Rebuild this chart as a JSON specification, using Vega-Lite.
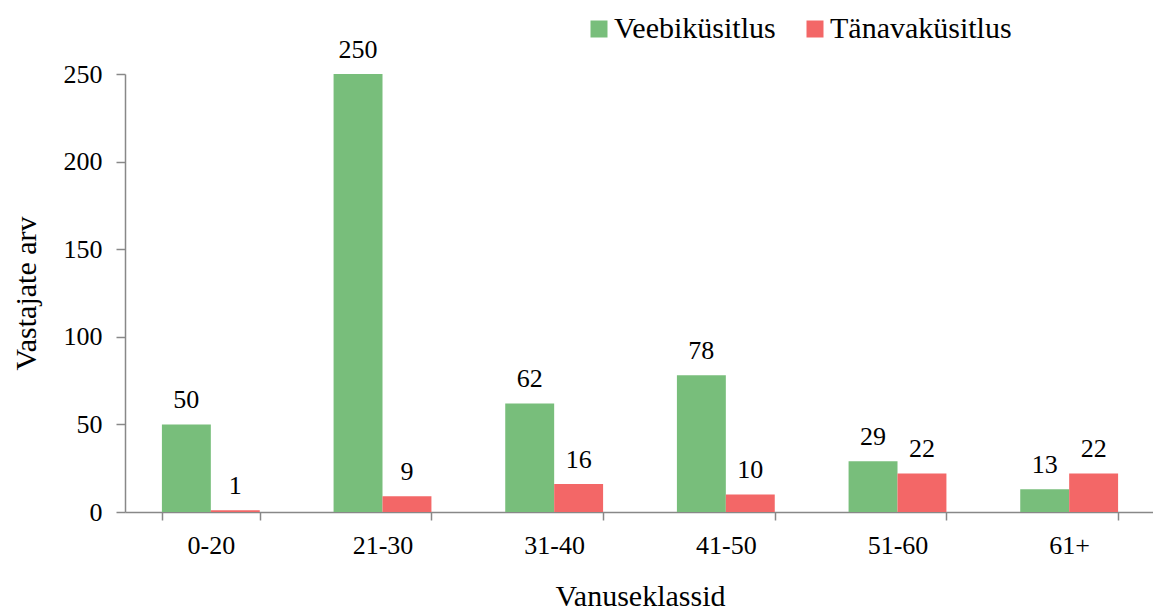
{
  "$schema": "https://vega.github.io/schema/vega-lite/v6.json",
  "width": 1030,
  "height": 438,
  "autosize": {"type": "none"},
  "padding": {"left": 125, "top": 74, "right": 0, "bottom": 99},
  "background": "white",
  "config": {
    "view": {"stroke": null},
    "font": "Liberation Serif, Times New Roman, serif",
    "axis": {"labelFont": "Liberation Serif, Times New Roman, serif", "titleFont": "Liberation Serif, Times New Roman, serif", "labelColor": "#000", "titleColor": "#000", "domainColor": "#888", "tickColor": "#888", "domainWidth": 1.5, "tickWidth": 1.5, "grid": false, "titleFontWeight": "normal"},
    "legend": {"labelFont": "Liberation Serif, Times New Roman, serif"},
    "text": {"font": "Liberation Serif, Times New Roman, serif"}
  },
  "data": {
    "values": [
      {"age": "0-20", "type": "Veebiküsitlus", "n": 50},
      {"age": "0-20", "type": "Tänavaküsitlus", "n": 1},
      {"age": "21-30", "type": "Veebiküsitlus", "n": 250},
      {"age": "21-30", "type": "Tänavaküsitlus", "n": 9},
      {"age": "31-40", "type": "Veebiküsitlus", "n": 62},
      {"age": "31-40", "type": "Tänavaküsitlus", "n": 16},
      {"age": "41-50", "type": "Veebiküsitlus", "n": 78},
      {"age": "41-50", "type": "Tänavaküsitlus", "n": 10},
      {"age": "51-60", "type": "Veebiküsitlus", "n": 29},
      {"age": "51-60", "type": "Tänavaküsitlus", "n": 22},
      {"age": "61+", "type": "Veebiküsitlus", "n": 13},
      {"age": "61+", "type": "Tänavaküsitlus", "n": 22}
    ]
  },
  "encoding": {
    "x": {
      "field": "age", "type": "nominal", "sort": null,
      "scale": {"paddingInner": 0.43, "paddingOuter": 0.215},
      "axis": {"title": "Vanuseklassid", "labelAngle": 0, "labelFontSize": 26, "titleFontSize": 30, "tickBand": "extent", "tickSize": 8, "labelPadding": 12, "titlePadding": 23}
    },
    "xOffset": {"field": "type", "type": "nominal", "sort": ["Veebiküsitlus", "Tänavaküsitlus"]},
    "y": {
      "field": "n", "type": "quantitative",
      "scale": {"domain": [0, 250], "nice": false},
      "axis": {"title": "Vastajate arv", "values": [0, 50, 100, 150, 200, 250], "labelFontSize": 26, "titleFontSize": 30, "tickSize": 9, "labelPadding": 14, "titlePadding": 22}
    }
  },
  "layer": [
    {
      "mark": {"type": "bar"},
      "encoding": {
        "color": {
          "field": "type", "type": "nominal",
          "scale": {"domain": ["Veebiküsitlus", "Tänavaküsitlus"], "range": ["#78BE7B", "#F36767"]},
          "legend": {"title": null, "orient": "none", "direction": "horizontal", "legendX": 459, "legendY": -60, "labelFontSize": 30, "labelLimit": 0, "labelColor": "#000", "symbolType": "square", "symbolSize": 289, "symbolStrokeWidth": 0, "symbolOpacity": 1, "columnPadding": 24, "labelOffset": 0}
        }
      }
    },
    {
      "mark": {"type": "text", "baseline": "alphabetic", "dy": -16, "fontSize": 26, "color": "#000"},
      "encoding": {"text": {"field": "n", "type": "quantitative"}}
    }
  ]
}
